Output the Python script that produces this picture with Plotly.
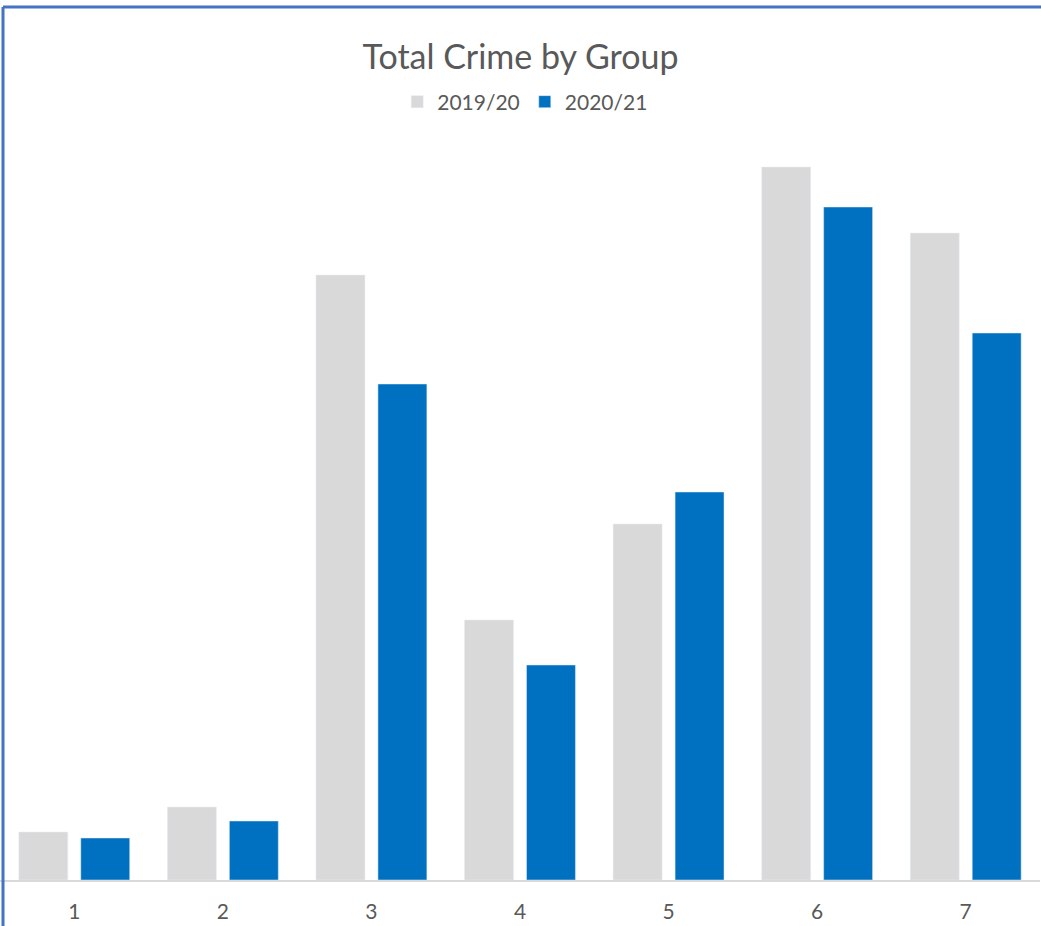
import plotly.graph_objects as go

groups = ["1", "2", "3", "4", "5", "6", "7"]
crime_2019_20 = [48, 73, 605, 260, 356, 713, 647]
crime_2020_21 = [42, 59, 496, 215, 388, 673, 547]

W, H = 1041, 926
ML, MR, MT, MB = 0, 1, 120, 46
PW = W - ML - MR
PH = H - MT - MB

def px_x(p):
    return (p - ML) / PW

def px_y(p):
    return (H - MB - p) / PH

fig = go.Figure()
fig.add_trace(go.Bar(name="2019/20", x=groups, y=crime_2019_20, marker_color="#d9d9d9"))
fig.add_trace(go.Bar(name="2020/21", x=groups, y=crime_2020_21, marker_color="#0070c0"))

fig.update_layout(
    width=W, height=H,
    margin=dict(l=ML, r=MR, t=MT, b=MB, pad=0),
    paper_bgcolor="white", plot_bgcolor="white",
    barmode="group", bargap=0.166, bargroupgap=0.21,
    font=dict(family="Lato, Open Sans, sans-serif", color="#595959"),
    title=dict(text="Total Crime by Group", x=0.5, xanchor="center", y=1 - 57 / H, yanchor="middle",
               font=dict(size=34, color="#595959")),
    legend=dict(orientation="h", x=0.505, xanchor="center", y=px_y(102), yanchor="middle",
                font=dict(size=21, color="#595959"), itemwidth=30, traceorder="normal"),
    showlegend=True,
)
fig.update_xaxes(showline=True, linecolor="#d9d9d9", linewidth=2, ticks="", showgrid=False,
                 tickfont=dict(size=21, color="#595959"), ticklabelstandoff=12)
fig.update_yaxes(range=[0, 760], visible=False, showgrid=False)

# outer chart border (left and top edges visible)
fig.add_shape(type="line", xref="paper", yref="paper", x0=px_x(3), x1=px_x(3), y0=px_y(7), y1=px_y(940),
              line=dict(color="#4472c4", width=3))
fig.add_shape(type="line", xref="paper", yref="paper", x0=px_x(3), x1=px_x(1050), y0=px_y(7), y1=px_y(7),
              line=dict(color="#4472c4", width=3))

fig.write_html("out.html", config={"displayModeBar": False},
               post_script="document.body.style.margin='0';document.body.style.overflow='hidden';")
